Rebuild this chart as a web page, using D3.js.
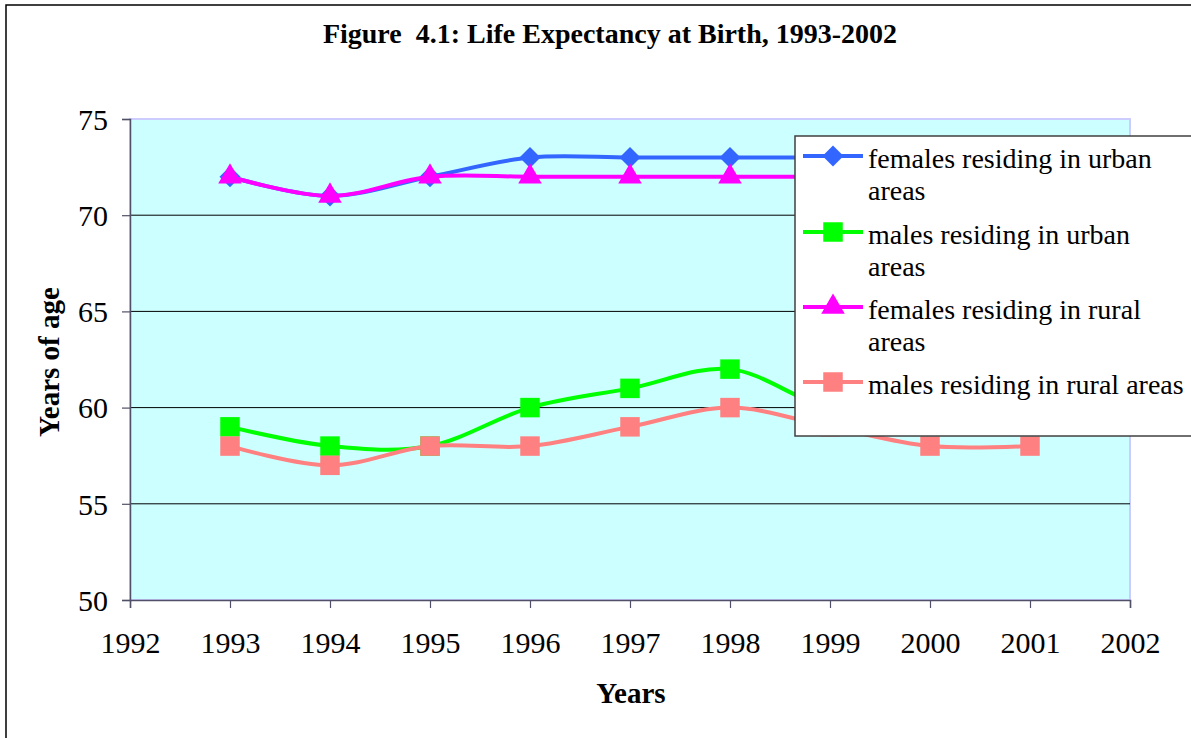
<!DOCTYPE html>
<html>
<head>
<meta charset="utf-8">
<script src="https://cdn.jsdelivr.net/npm/d3@7"></script>
<style>
  body { margin: 0; background: #fff; }
  svg { display: block; font-family: "Liberation Serif", "Times New Roman", serif; }
</style>
</head>
<body>
<svg id="chart" width="1191" height="738"></svg>
<script>
// data
var years = [1993, 1994, 1995, 1996, 1997, 1998, 1999, 2000, 2001];
var femalesUrban = [72, 71, 72, 73, 73, 73, 73, 73, 73];
var malesUrban   = [59, 58, 58, 60, 61, 62, 60, 60, 60];
var femalesRural = [72, 71, 72, 72, 72, 72, 72, 72, 72];
var malesRural   = [58, 57, 58, 58, 59, 60, 59, 58, 58];
var xTicks = [1992, 1993, 1994, 1995, 1996, 1997, 1998, 1999, 2000, 2001, 2002];
var yTicks = [50, 55, 60, 65, 70, 75];

// diamond = square turned 45 degrees
var series = [
    {name: ["females residing in urban", "areas"], values: femalesUrban, color: "#3366ff", symbol: d3.symbolSquare, size: 220, rot: 45},
    {name: ["males residing in urban", "areas"], values: malesUrban, color: "#00ff00", symbol: d3.symbolSquare, size: 380, rot: 0},
    {name: ["females residing in rural", "areas"], values: femalesRural, color: "#ff00ff", symbol: d3.symbolTriangle, size: 240, rot: 0},
    {name: ["males residing in rural areas"], values: malesRural, color: "#ff8080", symbol: d3.symbolSquare, size: 380, rot: 0}
];

var svg = d3.select("#chart");

// outer frame, runs off the right and bottom of the page
svg.append("rect")
   .attr("x", 6).attr("y", 5)
   .attr("width", 1200).attr("height", 800)
   .attr("fill", "#fff").attr("stroke", "#000").attr("stroke-width", 1.5);

var x = d3.scaleLinear().domain([1992, 2002]).range([130, 1130]);
var y = d3.scaleLinear().domain([50, 75]).range([600, 119]);

// plot area
svg.append("rect")
   .attr("x", x(1992)).attr("y", y(75))
   .attr("width", x(2002) - x(1992)).attr("height", y(50) - y(75))
   .attr("fill", "#ccffff").attr("stroke", "#ccccff").attr("stroke-width", 2);

// gridlines
svg.append("g").selectAll("line")
   .data(yTicks.filter(d => d > 50 && d < 75))
   .enter().append("line")
   .attr("x1", x(1992)).attr("x2", x(2002))
   .attr("y1", d => y(d)).attr("y2", d => y(d))
   .attr("stroke", "#000").attr("stroke-width", 1);

// axes
var yAxis = svg.append("g")
   .attr("transform", "translate(" + x(1992) + ",0)")
   .call(d3.axisLeft(y).tickValues(yTicks).tickSize(8).tickPadding(14).tickFormat(d3.format("d")));
var xAxis = svg.append("g")
   .attr("transform", "translate(0," + y(50) + ")")
   .call(d3.axisBottom(x).tickValues(xTicks).tickSize(8).tickPadding(24).tickFormat(d3.format("d")));

[yAxis, xAxis].forEach(a => {
    a.select(".domain").attr("stroke", "#505068").attr("stroke-width", 1.5);
    a.selectAll(".tick line").attr("stroke", "#505068").attr("stroke-width", 1.2);
    a.selectAll("text").attr("font-family", "Liberation Serif, Times New Roman, serif")
     .attr("font-size", 30).attr("fill", "#000");
});
yAxis.selectAll("text").attr("dy", "0.34em");

// series lines + markers
var line = d3.line()
    .x((d, i) => x(years[i]))
    .y(d => y(d))
    .curve(d3.curveCatmullRom.alpha(0));

function marker(s) {
    return d3.symbol().type(s.symbol).size(s.size)();
}

series.forEach(s => {
    var g = svg.append("g");
    g.append("path")
     .attr("d", line(s.values))
     .attr("fill", "none")
     .attr("stroke", s.color)
     .attr("stroke-width", 4);
    g.selectAll("path.m")
     .data(s.values)
     .enter().append("path")
     .attr("class", "m")
     .attr("transform", (d, i) => "translate(" + x(years[i]) + "," + y(d) + ") rotate(" + s.rot + ")")
     .attr("d", marker(s))
     .attr("fill", s.color);
});

// title
svg.append("text")
   .attr("x", 610).attr("y", 43)
   .attr("text-anchor", "middle")
   .attr("font-size", 28).attr("font-weight", "bold")
   .attr("xml:space", "preserve")
   .text("Figure  4.1: Life Expectancy at Birth, 1993-2002");

// axis titles
svg.append("text")
   .attr("x", 631).attr("y", 703)
   .attr("text-anchor", "middle")
   .attr("font-size", 29).attr("font-weight", "bold")
   .text("Years");
svg.append("text")
   .attr("transform", "translate(59,362) rotate(-90)")
   .attr("text-anchor", "middle")
   .attr("font-size", 29).attr("font-weight", "bold")
   .text("Years of age");

// legend
var legend = svg.append("g").attr("transform", "translate(795,136)");
legend.append("rect")
   .attr("x", 0).attr("y", 0)
   .attr("width", 420).attr("height", 300)
   .attr("fill", "#fff").attr("stroke", "#404040").attr("stroke-width", 1.5);

var rowY = [20, 96, 171, 246];
series.forEach((s, i) => {
    var r = legend.append("g").attr("transform", "translate(0," + rowY[i] + ")");
    r.append("line")
     .attr("x1", 8).attr("x2", 68)
     .attr("stroke", s.color).attr("stroke-width", 4);
    r.append("path")
     .attr("transform", "translate(38,0) rotate(" + s.rot + ")")
     .attr("d", marker(s))
     .attr("fill", s.color);
    s.name.forEach((t, j) => {
        r.append("text")
         .attr("x", 73).attr("y", 12 + j * 32)
         .attr("font-size", 28)
         .text(t);
    });
});
</script>
</body>
</html>
